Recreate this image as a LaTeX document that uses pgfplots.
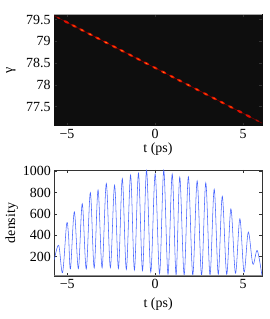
\documentclass[border=0pt]{standalone}
\usepackage{fontspec}
\setmainfont{Liberation Serif}
\usepackage{pgfplots}
\pgfplotsset{compat=1.18}
\definecolor{bgblack}{RGB}{14,14,14}
\definecolor{dred}{RGB}{110,0,0}
\definecolor{bred}{RGB}{220,15,0}
\definecolor{borange}{RGB}{255,85,0}
\definecolor{byellow}{RGB}{255,170,40}
\definecolor{mblue}{RGB}{70,100,255}
\pgfdeclareplotmark{blob}{\pgfpathellipse{\pgfpointorigin}{\pgfpoint{2.66pt}{-1.38pt}}{\pgfpoint{0.55pt}{1.07pt}}\pgfusepathqfill}
\pgfdeclareplotmark{blobs}{\pgfpathellipse{\pgfpointorigin}{\pgfpoint{1.8pt}{-0.93pt}}{\pgfpoint{0.37pt}{0.71pt}}\pgfusepathqfill}
\pgfdeclareplotmark{core}{\pgfpathellipse{\pgfpointorigin}{\pgfpoint{1.42pt}{-0.74pt}}{\pgfpoint{0.28pt}{0.53pt}}\pgfusepathqfill}
\pgfdeclareplotmark{tiny}{\pgfpathellipse{\pgfpointorigin}{\pgfpoint{0.7pt}{-0.36pt}}{\pgfpoint{0.16pt}{0.31pt}}\pgfusepathqfill}
\pgfplotsset{
  mystyle/.style={
    scale only axis,
    tick align=inside,
    major tick length=3bp,
    axis line style={black!80, line width=0.5bp},
    every tick/.style={black!80, line width=0.4bp},
    /pgf/number format/assume math mode=true,
    xmin=-5.74, xmax=6.08,
    xtick={-5,0,5}, xticklabels={−5,0,5},
    xlabel={t (ps)},
  }
}
\begin{document}
\begin{tikzpicture}[font=\fontsize{14}{16}\selectfont]
\useasboundingbox (0,0) rectangle (270bp,319bp);
% ---------------- top panel ----------------
\begin{axis}[mystyle,
  at={(54bp,193.3bp)}, anchor=south west,
  width=208bp, height=111.4bp,
  ymin=77.06, ymax=79.62,
  ytick={77.5,78,78.5,79,79.5},
  yticklabels={77.5,78,78.5,79,79.5},
  axis background/.style={fill=bgblack},
  axis line style={bgblack},
  ylabel={γ},
  xlabel style={at={(axis description cs:0.5,-0.211)}, anchor=center},
  ylabel style={at={(axis description cs:-0.2067,0.5)}, anchor=center},
]
\addplot[dred, line width=0.6bp] coordinates {(-5.74,79.59) (6.08,77.12)};
% dim outer blobs
\addplot[only marks, mark=blobs, color=bred!80!black] coordinates {
(-5.49,79.537) (5.81,77.176)};
% red blobs
\addplot[only marks, mark=blob, color=bred] coordinates {
(-5.04,79.443) (-4.60,79.351) (-4.15,79.257) (-3.69,79.161) (-3.25,79.069)
(-2.78,78.971) (-2.31,78.873) (-1.87,78.781) (-1.40,78.683) (-0.95,78.589)
(-0.49,78.492) (0.00,78.390) (0.49,78.288) (0.97,78.187) (1.40,78.097)
(1.89,77.995) (2.39,77.890) (2.88,77.788) (3.36,77.688) (3.82,77.592)
(4.31,77.489) (4.82,77.383) (5.30,77.282)};
% orange cores
\addplot[only marks, mark=core, color=borange] coordinates {
(-4.60,79.351) (-4.15,79.257) (-3.69,79.161) (-3.25,79.069)
(-2.78,78.971) (-2.31,78.873) (-1.87,78.781) (-1.40,78.683) (-0.95,78.589)
(-0.49,78.492) (0.00,78.390) (0.49,78.288) (0.97,78.187) (1.40,78.097)
(1.89,77.995) (2.39,77.890) (2.88,77.788) (3.36,77.688) (3.82,77.592)
(4.31,77.489)};
% yellowish centres
\addplot[only marks, mark=tiny, color=byellow] coordinates {
(-4.15,79.257) (-3.69,79.161) (-2.78,78.971) (-1.87,78.781)
(-0.49,78.492) (0.49,78.288) (1.89,77.995)};
\draw[gray!70, line width=0.9bp] (rel axis cs:0,1) -- (rel axis cs:1,1);
\end{axis}
% ---------------- bottom panel ----------------
\begin{axis}[mystyle,
  at={(54.3bp,43bp)}, anchor=south west,
  width=207.7bp, height=106bp,
  ymin=19, ymax=1012,
  ytick={200,400,600,800,1000},
  yticklabels={200,400,600,800,1000},
  ylabel={density},
  xlabel style={at={(axis description cs:0.5,-0.264)}, anchor=center},
  ylabel style={at={(axis description cs:-0.205,0.5)}, anchor=center},
]
\addplot[mblue, line width=0.55bp, smooth, tension=0.55] coordinates {
(-5.74,170) (-5.49,307) (-5.27,50) (-5.04,505) (-4.93,400) (-4.82,85)
(-4.60,620) (-4.37,88) (-4.15,695) (-3.92,85) (-3.69,800) (-3.47,95)
(-3.25,825) (-3.02,95) (-2.78,885) (-2.55,97) (-2.31,870) (-2.09,90)
(-1.87,932) (-1.64,80) (-1.40,965) (-1.18,75) (-0.95,982) (-0.72,70)
(-0.49,1008) (-0.25,55) (0.00,975) (0.25,40) (0.49,1008) (0.73,35)
(0.97,975) (1.19,30) (1.40,945) (1.65,30) (1.89,948) (2.14,28)
(2.39,910) (2.64,25) (2.88,892) (3.12,30) (3.36,832) (3.59,35)
(3.82,765) (4.07,35) (4.31,648) (4.57,45) (4.82,555) (5.06,55)
(5.30,430) (5.56,130) (5.81,258) (6.08,19)};
\draw[black!45, line width=1.2bp] (rel axis cs:0,0) -- (rel axis cs:1,0);
\end{axis}
\end{tikzpicture}
\end{document}
